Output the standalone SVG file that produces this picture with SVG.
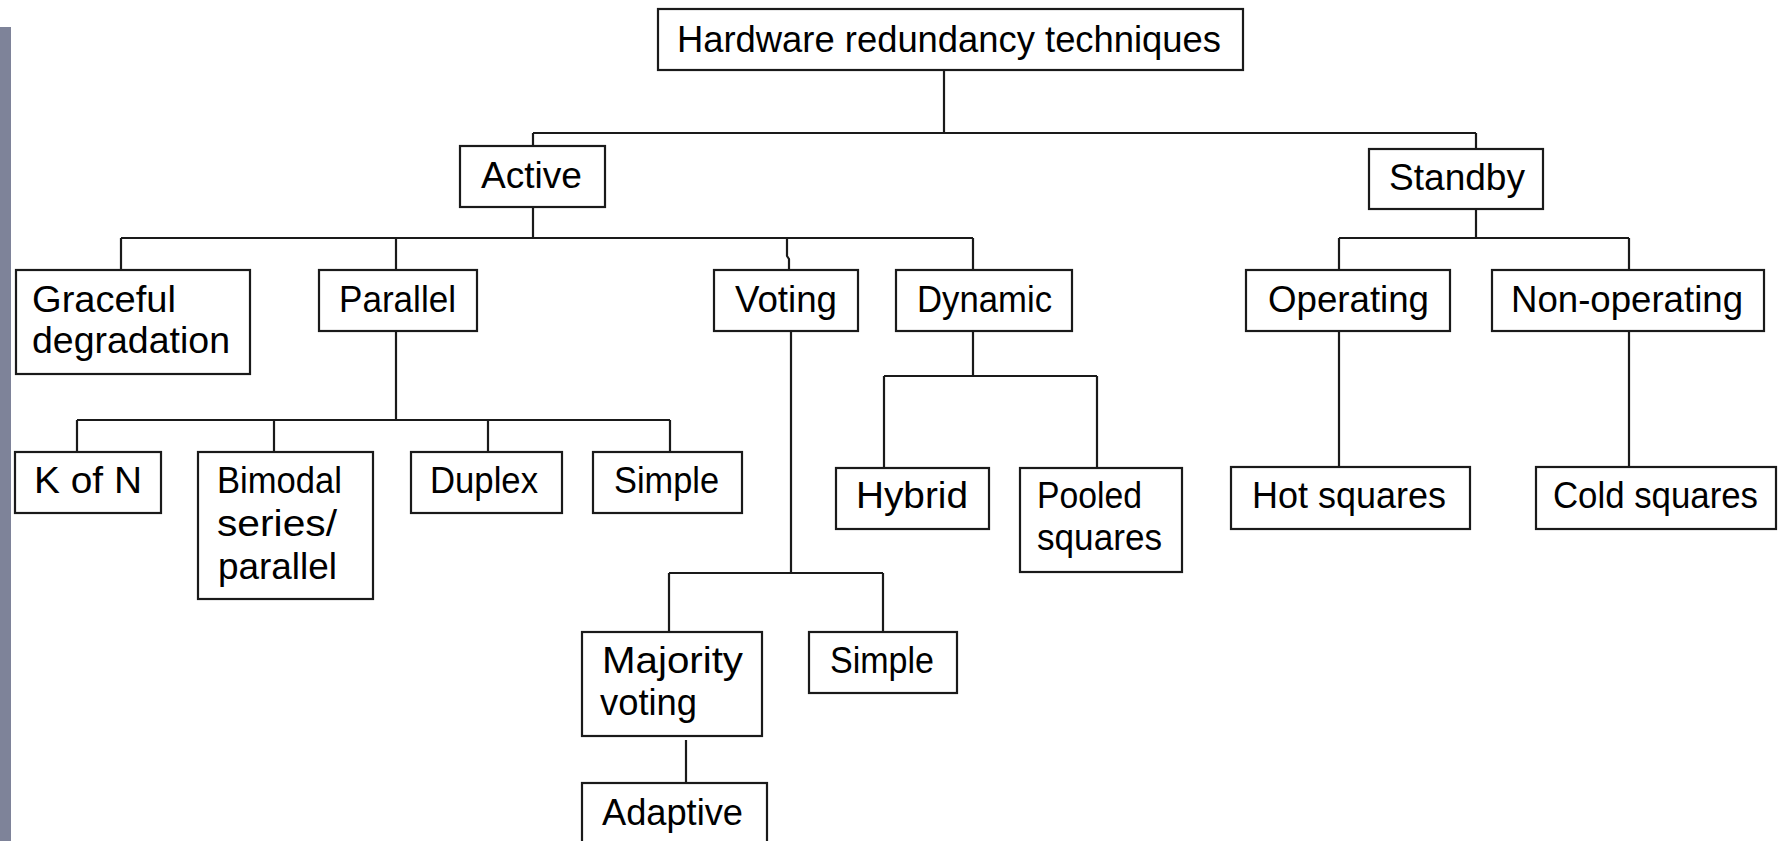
<svg xmlns="http://www.w3.org/2000/svg" width="1778" height="841" viewBox="0 0 1778 841">
<style>
.box{fill:#fff;stroke:#1a1a1a;stroke-width:2.2}
.t{font-family:"Liberation Sans",Arial,sans-serif;font-size:36px;fill:#000}
.c{fill:none;stroke:#1a1a1a;stroke-width:2.2}
</style>
<rect x="0" y="0" width="1778" height="841" fill="#fff"/>
<rect x="0" y="27" width="11" height="814" fill="#7e8399"/>
<g id="connectors" class="c">
<path d="M944,70 V133 M533,133 H1476 M533,133 V146 M1476,133 V149"/>
<path d="M533,207 V238 M121,238 H973 M121,238 V270 M396,238 V270 M787,238 V256 L789,259 V270 M973,238 V270"/>
<path d="M1476,209 V238 M1339,238 H1629 M1339,238 V270 M1629,238 V270"/>
<path d="M396,331 V420 M77,420 H670 M77,420 V452 M274,420 V452 M488,420 V452 M670,420 V452"/>
<path d="M791,331 V573 M669,573 H883 M669,573 V632 M883,573 V632"/>
<path d="M686,740 V783"/>
<path d="M973,331 V376 M884,376 H1097 M884,376 V468 M1097,376 V468"/>
<path d="M1339,331 V467 M1629,331 V467"/>
</g>
<g id="root"><rect class="box" x="658" y="9" width="585" height="61"/><text class="t" x="677" y="52" textLength="544" lengthAdjust="spacingAndGlyphs">Hardware redundancy techniques</text></g>
<g id="active"><rect class="box" x="460" y="146" width="145" height="61"/><text class="t" x="481" y="188" textLength="101" lengthAdjust="spacingAndGlyphs">Active</text></g>
<g id="standby"><rect class="box" x="1369" y="149" width="174" height="60"/><text class="t" x="1389" y="190" textLength="136" lengthAdjust="spacingAndGlyphs">Standby</text></g>
<g id="graceful"><rect class="box" x="16" y="270" width="234" height="104"/><text class="t" x="32" y="312" textLength="144" lengthAdjust="spacingAndGlyphs">Graceful</text><text class="t" x="32" y="353" textLength="198" lengthAdjust="spacingAndGlyphs">degradation</text></g>
<g id="parallel"><rect class="box" x="319" y="270" width="158" height="61"/><text class="t" x="339" y="312" textLength="117" lengthAdjust="spacingAndGlyphs">Parallel</text></g>
<g id="voting"><rect class="box" x="714" y="270" width="144" height="61"/><text class="t" x="735" y="312" textLength="102" lengthAdjust="spacingAndGlyphs">Voting</text></g>
<g id="dynamic"><rect class="box" x="896" y="270" width="176" height="61"/><text class="t" x="917" y="312" textLength="135" lengthAdjust="spacingAndGlyphs">Dynamic</text></g>
<g id="operating"><rect class="box" x="1246" y="270" width="204" height="61"/><text class="t" x="1268" y="312" textLength="161" lengthAdjust="spacingAndGlyphs">Operating</text></g>
<g id="nonoperating"><rect class="box" x="1492" y="270" width="272" height="61"/><text class="t" x="1511" y="312" textLength="232" lengthAdjust="spacingAndGlyphs">Non-operating</text></g>
<g id="kofn"><rect class="box" x="15" y="452" width="146" height="61"/><text class="t" x="34" y="493" textLength="108" lengthAdjust="spacingAndGlyphs">K of N</text></g>
<g id="bimodal"><rect class="box" x="198" y="452" width="175" height="147"/><text class="t" x="217" y="493" textLength="125" lengthAdjust="spacingAndGlyphs">Bimodal</text><text class="t" x="217" y="536" textLength="120" lengthAdjust="spacingAndGlyphs">series/</text><text class="t" x="218" y="579" textLength="119" lengthAdjust="spacingAndGlyphs">parallel</text></g>
<g id="duplex"><rect class="box" x="411" y="452" width="151" height="61"/><text class="t" x="430" y="493" textLength="108" lengthAdjust="spacingAndGlyphs">Duplex</text></g>
<g id="simple1"><rect class="box" x="593" y="452" width="149" height="61"/><text class="t" x="614" y="493" textLength="105" lengthAdjust="spacingAndGlyphs">Simple</text></g>
<g id="hybrid"><rect class="box" x="836" y="468" width="153" height="61"/><text class="t" x="856" y="508" textLength="112" lengthAdjust="spacingAndGlyphs">Hybrid</text></g>
<g id="pooled"><rect class="box" x="1020" y="468" width="162" height="104"/><text class="t" x="1037" y="508" textLength="105" lengthAdjust="spacingAndGlyphs">Pooled</text><text class="t" x="1037" y="550" textLength="125" lengthAdjust="spacingAndGlyphs">squares</text></g>
<g id="hot"><rect class="box" x="1231" y="467" width="239" height="62"/><text class="t" x="1252" y="508" textLength="194" lengthAdjust="spacingAndGlyphs">Hot squares</text></g>
<g id="cold"><rect class="box" x="1536" y="467" width="240" height="62"/><text class="t" x="1553" y="508" textLength="205" lengthAdjust="spacingAndGlyphs">Cold squares</text></g>
<g id="majority"><rect class="box" x="582" y="632" width="180" height="104"/><text class="t" x="602" y="673" textLength="141" lengthAdjust="spacingAndGlyphs">Majority</text><text class="t" x="600" y="715" textLength="97" lengthAdjust="spacingAndGlyphs">voting</text></g>
<g id="simple2"><rect class="box" x="809" y="632" width="148" height="61"/><text class="t" x="830" y="673" textLength="104" lengthAdjust="spacingAndGlyphs">Simple</text></g>
<g id="adaptive"><rect class="box" x="582" y="783" width="185" height="80"/><text class="t" x="602" y="825" textLength="141" lengthAdjust="spacingAndGlyphs">Adaptive</text></g>
</svg>
